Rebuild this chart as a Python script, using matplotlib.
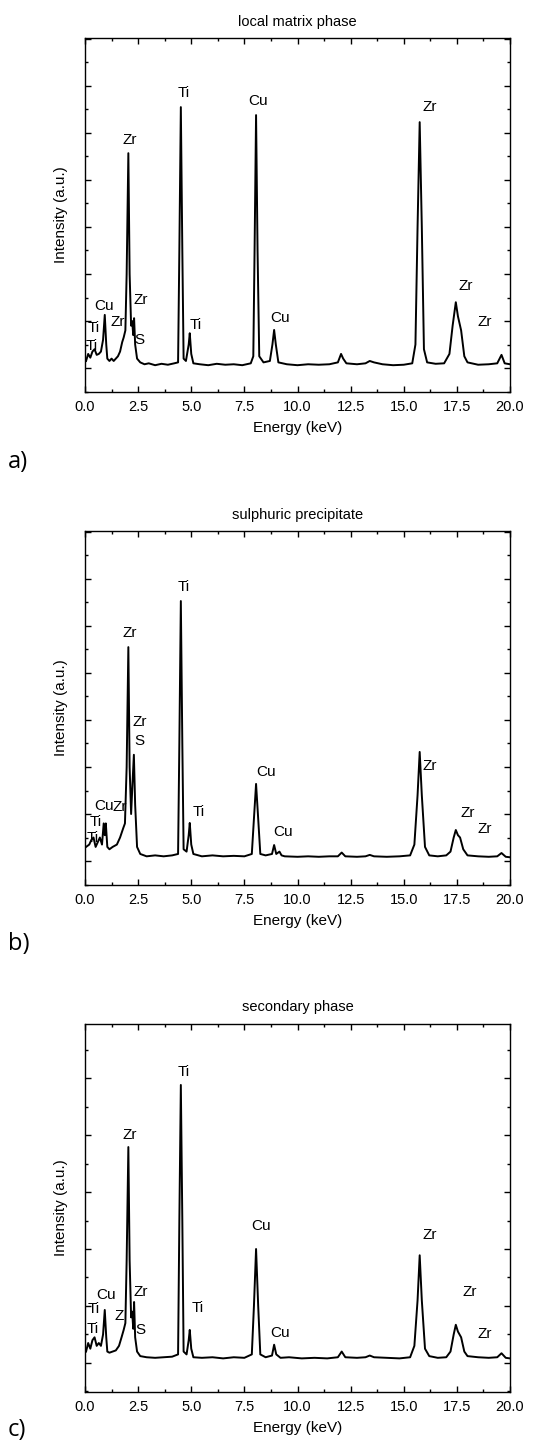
import matplotlib
matplotlib.use('Agg')
import matplotlib.pyplot as plt
from matplotlib.ticker import MultipleLocator, NullFormatter

plt.rcParams['font.family'] = ['Liberation Sans', 'DejaVu Sans']

# spectrum vertices (energy keV, intensity a.u.)
energy_a = [0.05, 0.15, 0.25, 0.35, 0.45, 0.55, 0.65, 0.75, 0.85, 0.93, 1.0, 1.05, 1.15, 1.25, 1.35,
            1.45, 1.55, 1.65, 1.75, 1.82, 1.9, 1.96, 2.04, 2.1, 2.17, 2.22, 2.27, 2.31, 2.36, 2.45,
            2.6, 2.8, 3.0, 3.3, 3.6, 3.9, 4.2, 4.38, 4.44, 4.51, 4.58, 4.64, 4.75, 4.88, 4.93,
            5.0, 5.1, 5.4, 5.8, 6.2, 6.6, 7.0, 7.4, 7.8, 7.92, 7.98, 8.05, 8.12, 8.2, 8.4,
            8.7, 8.82, 8.9, 8.98, 9.1, 9.5, 10.0, 10.5, 11.0, 11.5, 11.9, 12.05, 12.15, 12.3, 12.8,
            13.2, 13.4, 13.6, 14.0, 14.5, 15.0, 15.4, 15.55, 15.65, 15.75, 15.85, 15.95, 16.1, 16.5, 16.9,
            17.15, 17.3, 17.45, 17.55, 17.7, 17.85, 18.0, 18.5, 19.0, 19.4, 19.6, 19.75, 20.0]
counts_a = [0.15, 0.3, 0.22, 0.35, 0.4, 0.28, 0.3, 0.35, 0.6, 1.13, 0.5, 0.2, 0.15, 0.2, 0.15,
            0.2, 0.25, 0.35, 0.55, 0.65, 0.8, 2.0, 4.57, 2.0, 0.9, 1.0, 0.7, 1.06, 0.5, 0.2,
            0.12, 0.08, 0.1, 0.06, 0.09, 0.07, 0.1, 0.12, 2.5, 5.55, 2.5, 0.2, 0.15, 0.5, 0.74,
            0.3, 0.1, 0.08, 0.06, 0.09, 0.07, 0.08, 0.06, 0.1, 0.25, 2.5, 5.38, 2.5, 0.25, 0.12,
            0.15, 0.5, 0.81, 0.5, 0.12, 0.08, 0.06, 0.08, 0.07, 0.08, 0.12, 0.3, 0.2, 0.1, 0.08,
            0.1, 0.15, 0.12, 0.08, 0.06, 0.07, 0.1, 0.5, 3.0, 5.23, 3.0, 0.4, 0.12, 0.09, 0.1,
            0.3, 0.9, 1.4, 1.1, 0.8, 0.25, 0.12, 0.07, 0.08, 0.1, 0.28, 0.1, 0.08]

energy_b = [0.05, 0.2, 0.3, 0.4, 0.5, 0.6, 0.7, 0.8, 0.88, 0.93, 0.98, 1.05, 1.15, 1.3, 1.5,
            1.65, 1.8, 1.88, 1.96, 2.04, 2.1, 2.17, 2.23, 2.3, 2.36, 2.45, 2.6, 2.9, 3.3, 3.7,
            4.1, 4.38, 4.44, 4.51, 4.58, 4.64, 4.78, 4.88, 4.93, 5.0, 5.1, 5.5, 6.0, 6.5, 7.0,
            7.5, 7.85, 7.95, 8.05, 8.15, 8.25, 8.5, 8.8, 8.9, 9.0, 9.15, 9.25, 9.4, 10.0, 10.5,
            11.0, 11.5, 11.9, 12.08, 12.25, 12.8, 13.2, 13.4, 13.6, 14.2, 14.8, 15.3, 15.5, 15.65, 15.75,
            15.85, 16.0, 16.2, 16.6, 17.0, 17.2, 17.35, 17.45, 17.55, 17.65, 17.8, 18.0, 18.5, 19.0, 19.4,
            19.6, 19.8, 20.0]
counts_b = [0.3, 0.35, 0.45, 0.5, 0.3, 0.4, 0.5, 0.35, 0.8, 0.55, 0.8, 0.3, 0.25, 0.3, 0.35,
            0.5, 0.7, 0.8, 2.0, 4.55, 2.0, 1.0, 1.6, 2.26, 1.2, 0.3, 0.15, 0.1, 0.12, 0.1,
            0.12, 0.15, 2.5, 5.53, 2.5, 0.25, 0.2, 0.55, 0.81, 0.35, 0.15, 0.1, 0.12, 0.1, 0.11,
            0.1, 0.15, 0.9, 1.64, 0.9, 0.15, 0.12, 0.15, 0.34, 0.15, 0.2, 0.12, 0.1, 0.09, 0.1,
            0.09, 0.1, 0.1, 0.18, 0.1, 0.09, 0.1, 0.13, 0.1, 0.09, 0.1, 0.12, 0.35, 1.4, 2.32,
            1.4, 0.3, 0.12, 0.1, 0.12, 0.2, 0.5, 0.66, 0.55, 0.5, 0.25, 0.12, 0.1, 0.09, 0.1,
            0.17, 0.09, 0.08]

energy_c = [0.05, 0.15, 0.25, 0.35, 0.45, 0.55, 0.65, 0.75, 0.85, 0.93, 1.0, 1.05, 1.15, 1.3, 1.45,
            1.6, 1.72, 1.82, 1.9, 1.96, 2.04, 2.1, 2.17, 2.22, 2.27, 2.31, 2.36, 2.45, 2.6, 2.9,
            3.3, 3.7, 4.1, 4.38, 4.44, 4.51, 4.58, 4.64, 4.78, 4.88, 4.93, 5.0, 5.1, 5.5, 6.0,
            6.5, 7.0, 7.5, 7.85, 7.95, 8.05, 8.15, 8.25, 8.5, 8.8, 8.9, 9.0, 9.2, 9.6, 10.2,
            10.8, 11.4, 11.9, 12.08, 12.25, 12.8, 13.2, 13.4, 13.6, 14.2, 14.8, 15.3, 15.5, 15.65, 15.75,
            15.85, 16.0, 16.2, 16.6, 17.0, 17.2, 17.35, 17.45, 17.55, 17.7, 17.85, 18.0, 18.5, 19.0, 19.4,
            19.6, 19.8, 20.0]
counts_c = [0.2, 0.35, 0.25, 0.4, 0.45, 0.3, 0.35, 0.3, 0.5, 0.93, 0.45, 0.2, 0.18, 0.2, 0.22,
            0.3, 0.45, 0.58, 0.7, 1.8, 3.79, 1.8, 0.8, 0.9, 0.6, 1.07, 0.45, 0.2, 0.12, 0.1,
            0.09, 0.1, 0.11, 0.15, 2.5, 4.88, 2.5, 0.2, 0.15, 0.4, 0.58, 0.25, 0.1, 0.09, 0.1,
            0.08, 0.1, 0.09, 0.15, 1.0, 2.0, 1.0, 0.15, 0.1, 0.13, 0.32, 0.15, 0.09, 0.1, 0.08,
            0.09, 0.08, 0.1, 0.2, 0.1, 0.09, 0.1, 0.13, 0.1, 0.09, 0.08, 0.1, 0.3, 1.1, 1.89,
            1.1, 0.25, 0.12, 0.09, 0.1, 0.2, 0.5, 0.67, 0.55, 0.45, 0.2, 0.12, 0.1, 0.09, 0.1,
            0.17, 0.09, 0.08]

# peak labels: (text, energy, height)
labels_a = [('Zr', 2.12, 4.85), ('Ti', 4.66, 5.85), ('Cu', 8.14, 5.68), ('Zr', 16.2, 5.55),
            ('Zr', 17.9, 1.74), ('Zr', 18.8, 0.98), ('Cu', 9.2, 1.06), ('Ti', 5.2, 0.91),
            ('Cu', 0.9, 1.32), ('Zr', 1.55, 0.98), ('Zr', 2.63, 1.45), ('S', 2.54, 0.6),
            ('Ti', 0.4, 0.85), ('Ti', 0.3, 0.47)]
labels_b = [('Zr', 2.12, 4.85), ('Ti', 4.66, 5.83), ('Zr', 2.56, 2.96), ('S', 2.56, 2.55),
            ('Ti', 5.35, 1.04), ('Cu', 8.5, 1.9), ('Cu', 9.3, 0.62), ('Zr', 16.2, 2.02),
            ('Zr', 18.0, 1.02), ('Zr', 18.8, 0.68), ('Cu', 0.88, 1.17), ('Zr', 1.62, 1.15),
            ('Ti', 0.5, 0.83), ('Ti', 0.35, 0.5)]
labels_c = [('Zr', 2.12, 4.0), ('Ti', 4.66, 5.1), ('Cu', 8.3, 2.4), ('Zr', 16.2, 2.25),
            ('Zr', 18.1, 1.25), ('Zr', 18.8, 0.5), ('Cu', 1.0, 1.2), ('Ti', 5.3, 0.96),
            ('Z', 1.6, 0.82), ('Zr', 2.6, 1.25), ('S', 2.6, 0.58), ('Cu', 9.2, 0.53),
            ('Ti', 0.4, 0.95), ('Ti', 0.35, 0.6)]

titles = ['local matrix phase', 'sulphuric precipitate', 'secondary phase']
letters = ['a)', 'b)', 'c)']
letter_y = [462, 944, 1430]

W, H = 540, 1452
fig = plt.figure(figsize=(W / 100, H / 100), dpi=100)

# (top px, bottom px, ylim)
frames = [(38, 392, (-0.51, 7.02)), (531, 885, (-0.51, 7.02)), (1024, 1392, (-0.51, 5.95))]
data = [(energy_a, counts_a, labels_a), (energy_b, counts_b, labels_b), (energy_c, counts_c, labels_c)]

for i, ((top, bot, ylim), (en, ct, labs)) in enumerate(zip(frames, data)):
    ax = fig.add_axes([85 / W, 1 - bot / H, (510 - 85) / W, (bot - top) / H])
    ax.plot(en, ct, color='black', lw=1.4)
    ax.set_xlim(0, 20)
    ax.set_ylim(*ylim)
    ax.xaxis.set_major_locator(MultipleLocator(2.5))
    ax.xaxis.set_minor_locator(MultipleLocator(1.25))
    ax.yaxis.set_major_locator(MultipleLocator(1))
    ax.yaxis.set_minor_locator(MultipleLocator(0.5))
    ax.yaxis.set_major_formatter(NullFormatter())
    ax.xaxis.set_major_formatter(plt.FuncFormatter(lambda v, p: f'{v:.1f}'))
    ax.tick_params(which='both', direction='in', top=True, right=True, width=1.0)
    ax.tick_params(which='major', length=4, labelsize=10.5, pad=6)
    ax.tick_params(which='minor', length=2.5)
    for s in ax.spines.values():
        s.set_linewidth(1.0)
    ax.set_xlabel('Energy (keV)', fontsize=11, labelpad=5)
    ax.set_ylabel('Intensity (a.u.)', fontsize=11, labelpad=6)
    ax.set_title(titles[i], fontsize=10.5, pad=9)
    for t, x, y in labs:
        ax.text(x, y, t, fontsize=11, ha='center', va='center', clip_on=True)
    fig.text(8 / W, 1 - letter_y[i] / H, letters[i], fontsize=17, family=['Open Sans', 'DejaVu Sans'],
             va='center', ha='left')

fig.savefig('out.png', dpi=100)
